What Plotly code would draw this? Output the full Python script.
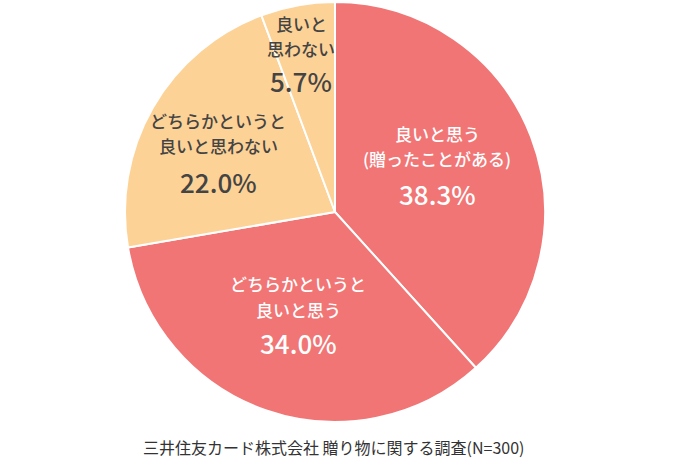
import plotly.graph_objects as go

# ---- data ----
categories = [
    "良いと思う<br>(贈ったことがある)",
    "どちらかというと<br>良いと思う",
    "どちらかというと<br>良いと思わない",
    "良いと<br>思わない",
]
values = [38.3, 34.0, 22.0, 5.7]
colors = ["#F17575", "#F17575", "#FDD296", "#FDD296"]
text_colors = ["#FFFFFF", "#FFFFFF", "#444444", "#444444"]
source_text = "三井住友カード株式会社 贈り物に関する調査(N=300)"

# ---- layout (pixel space) ----
W, H = 681, 467
cx, cy, R = 335, 212, 210
# label block anchor positions (pixels): (x, first line y, second line y, pct y)
label_pos = [
    (437, 134, 158, 193),
    (298, 283, 309, 342),
    (218, 121, 146, 181),
    (301, 24, 48, 81),
]

FONT = "Noto Sans CJK JP"

fig = go.Figure(go.Pie(
    labels=[c.replace("<br>", "") for c in categories],
    values=values,
    sort=False,
    direction="clockwise",
    rotation=0,
    marker=dict(colors=colors, line=dict(color="#FFFFFF", width=2)),
    textinfo="none",
    hoverinfo="label+percent",
    domain=dict(x=[(cx - R) / W, (cx + R) / W], y=[1 - (cy + R) / H, 1 - (cy - R) / H]),
    showlegend=False,
))

def px(x):
    return x / W

def py(y):
    return 1 - y / H

annotations = []
for cat, v, tc, (x, y1, y2, y3) in zip(categories, values, text_colors, label_pos):
    lines = cat.split("<br>")
    for line, yy in zip(lines, [y1, y2]):
        annotations.append(dict(
            x=px(x), y=py(yy), xref="paper", yref="paper", text=line,
            showarrow=False, xanchor="center", yanchor="middle",
            font=dict(family=FONT, size=17, color=tc, weight=500),
        ))
    annotations.append(dict(
        x=px(x), y=py(y3), xref="paper", yref="paper", text=f"{v:.1f}%",
        showarrow=False, xanchor="center", yanchor="middle",
        font=dict(family=FONT, size=26, color=tc, weight=500),
    ))

annotations.append(dict(
    x=px(334), y=py(447), xref="paper", yref="paper", text=source_text,
    showarrow=False, xanchor="center", yanchor="middle",
    font=dict(family=FONT, size=16, color="#333333"),
))

fig.update_layout(
    width=W, height=H,
    margin=dict(l=0, r=0, t=0, b=0),
    paper_bgcolor="#FFFFFF",
    plot_bgcolor="#FFFFFF",
    annotations=annotations,
)

fig.write_html("out.html", config={"displayModeBar": False},
               post_script="document.body.style.margin='0';")
